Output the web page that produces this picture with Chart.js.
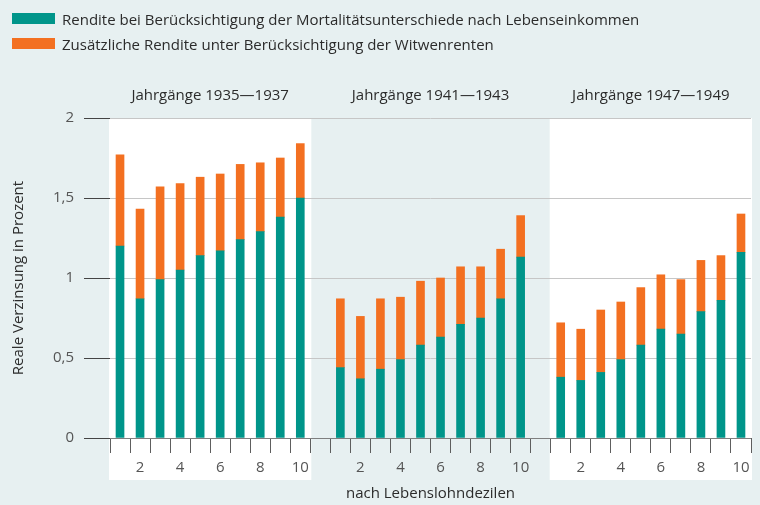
<!DOCTYPE html>
<html lang="de">
<head>
<meta charset="UTF-8">
<title>Reale Verzinsung nach Lebenslohndezilen</title>
<script src="https://cdn.jsdelivr.net/npm/chart.js"></script>
<style>
  body { margin: 0; background: #e7f0f1; font-family: "Open Sans", sans-serif; }
  #wrap { position: relative; width: 760px; height: 505px; }
  #legend { position: absolute; left: 12px; top: 6px; font-size: 15px; color: #2b2b2b; }
  .item { display: flex; align-items: center; height: 25px; white-space: nowrap; }
  .box { width: 43px; height: 11px; margin-right: 7px; }
</style>
</head>
<body>
<div id="wrap">
  <canvas id="chart" width="760" height="505"></canvas>
  <div id="legend"></div>
</div>
<script>
  // data
  const cohorts = ['Jahrgänge 1935—1937', 'Jahrgänge 1941—1943', 'Jahrgänge 1947—1949'];
  const decileTicks = ['', '2', '', '4', '', '6', '', '8', '', '10'];
  const seriesNames = [
    'Rendite bei Berücksichtigung der Mortalitätsunterschiede nach Lebenseinkommen',
    'Zusätzliche Rendite unter Berücksichtigung der Witwenrenten'
  ];
  const colors = ['#00958a', '#f37021'];

  const base1935 = [1.20, 0.87, 0.99, 1.05, 1.14, 1.17, 1.24, 1.29, 1.38, 1.50];
  const widow1935 = [0.57, 0.56, 0.58, 0.54, 0.49, 0.48, 0.47, 0.43, 0.37, 0.34];
  const base1941 = [0.44, 0.37, 0.43, 0.49, 0.58, 0.63, 0.71, 0.75, 0.87, 1.13];
  const widow1941 = [0.43, 0.39, 0.44, 0.39, 0.40, 0.37, 0.36, 0.32, 0.31, 0.26];
  const base1947 = [0.38, 0.36, 0.41, 0.49, 0.58, 0.68, 0.65, 0.79, 0.86, 1.16];
  const widow1947 = [0.34, 0.32, 0.39, 0.36, 0.36, 0.34, 0.34, 0.32, 0.28, 0.24];

  // one empty slot on each side of the middle cohort
  const labels = [...decileTicks, '', ...decileTicks, '', ...decileTicks];
  const baseData = [...base1935, null, ...base1941, null, ...base1947];
  const widowData = [...widow1935, null, ...widow1941, null, ...widow1947];

  // legend
  const legend = document.getElementById('legend');
  seriesNames.forEach((name, i) => {
    legend.innerHTML += `<div class="item"><span class="box" style="background:${colors[i]}"></span>${name}</div>`;
  });

  // white panels behind cohorts 1 and 3, cohort headings
  const panels = {
    id: 'panels',
    beforeDraw(chart) {
      const { ctx, chartArea } = chart;
      const x = chart.scales.x;
      const half = (x.getPixelForValue(1) - x.getPixelForValue(0)) / 2;
      ctx.save();
      ctx.fillStyle = '#ffffff';
      [[0, 9], [22, 31]].forEach(([a, b]) => {
        const l = x.getPixelForValue(a) - half - 1;
        const r = x.getPixelForValue(b) + half + 1;
        ctx.fillRect(l, chartArea.top, r - l, chartArea.bottom - chartArea.top + 42);
      });
      ctx.fillStyle = '#2b2b2b';
      ctx.font = '15px "Open Sans", sans-serif';
      ctx.textAlign = 'center';
      ctx.textBaseline = 'middle';
      [[4, 5], [15, 16], [26, 27]].forEach(([a, b], i) => {
        const cx = (x.getPixelForValue(a) + x.getPixelForValue(b)) / 2;
        ctx.fillText(cohorts[i], cx, chartArea.top - 22);
      });
      ctx.restore();
    }
  };

  Chart.defaults.font.family = '"Open Sans", sans-serif';
  Chart.defaults.color = '#555';

  new Chart(document.getElementById('chart'), {
    type: 'bar',
    data: {
      labels: labels,
      datasets: [
        { label: seriesNames[0], data: baseData, backgroundColor: colors[0], barThickness: 8 },
        { label: seriesNames[1], data: widowData, backgroundColor: colors[1], barThickness: 8 }
      ]
    },
    options: {
      responsive: false,
      animation: false,
      layout: { padding: { top: 118, right: 9, left: 0, bottom: 0 } },
      plugins: { legend: { display: false }, tooltip: { enabled: false } },
      scales: {
        x: {
          stacked: true,
          afterFit: s => { s.height = 67; },
          grid: { offset: true, drawOnChartArea: false, tickLength: 15, tickColor: '#5e5e5e' },
          border: { display: false },
          ticks: { autoSkip: false, maxRotation: 0, padding: 6, font: { size: 15 }, color: '#555' },
          title: { display: true, text: 'nach Lebenslohndezilen', font: { size: 15 }, color: '#2b2b2b', padding: { top: 0, bottom: 2 } }
        },
        y: {
          stacked: true,
          min: 0,
          max: 2,
          afterFit: s => { s.width = 110; },
          ticks: {
            stepSize: 0.5,
            padding: 10,
            font: { size: 15 },
            color: '#555',
            callback: v => v.toLocaleString('de-DE')
          },
          grid: {
            color: c => (c.tick && c.tick.value === 0 ? '#7f7f7f' : '#c6c6c6'),
            tickColor: '#444',
            tickLength: 26
          },
          border: { display: false },
          title: { display: true, text: 'Reale Verzinsung in Prozent', font: { size: 15 }, color: '#2b2b2b', padding: { top: 10, bottom: 0 } }
        }
      }
    },
    plugins: [panels]
  });
</script>
</body>
</html>
